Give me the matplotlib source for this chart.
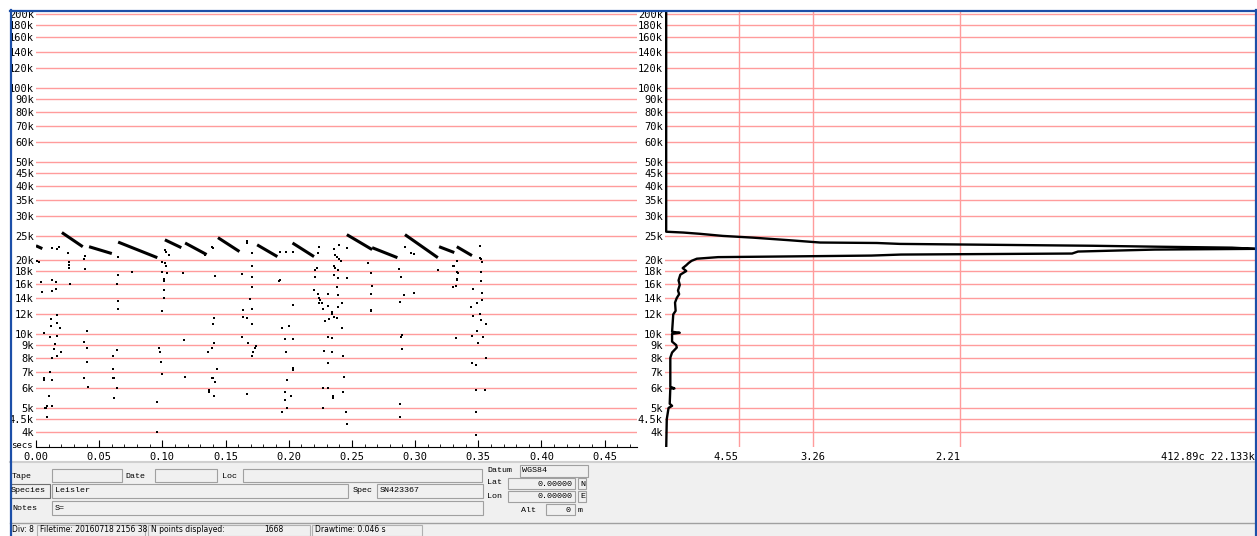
import matplotlib
matplotlib.use("Agg")
import matplotlib.pyplot as plt
from matplotlib.patches import Rectangle
from matplotlib.lines import Line2D
from matplotlib.ticker import FixedLocator, NullLocator, MultipleLocator

# frequency grid / tick labels (kHz)
freq_ticks = [4, 4.5, 5, 6, 7, 8, 9, 10, 12, 14, 16, 18, 20, 25, 30, 35, 40, 45,
              50, 60, 70, 80, 90, 100, 120, 140, 160, 180, 200]
freq_labels = ["4k", "4.5k", "5k", "6k", "7k", "8k", "9k", "10k", "12k", "14k", "16k",
               "18k", "20k", "25k", "30k", "35k", "40k", "45k", "50k", "60k", "70k",
               "80k", "90k", "100k", "120k", "140k", "160k", "180k", "200k"]
time_ticks = [0.00, 0.05, 0.10, 0.15, 0.20, 0.25, 0.30, 0.35, 0.40, 0.45]

# call sweeps: start/end time (s) and start/end frequency (kHz)
call_t0 = [0.000, 0.0205, 0.042, 0.065, 0.102, 0.118, 0.144, 0.175, 0.203, 0.246, 0.266, 0.292, 0.319, 0.333]
call_t1 = [0.005, 0.037, 0.060, 0.096, 0.115, 0.135, 0.161, 0.191, 0.220, 0.266, 0.286, 0.318, 0.331, 0.345]
call_f0 = [22.8, 25.8, 22.6, 23.6, 24.1, 23.4, 24.6, 23.0, 23.4, 25.3, 22.4, 25.3, 22.6, 22.6]
call_f1 = [22.2, 22.6, 21.2, 20.4, 22.4, 21.0, 21.6, 20.6, 20.6, 22.0, 20.4, 20.4, 21.4, 20.8]

# loose zero-crossing dots
dot_t = [0.001, 0.002, 0.004, 0.005, 0.006, 0.006, 0.006, 0.007, 0.008, 0.009, 0.009, 0.010,
         0.011, 0.011, 0.012, 0.012, 0.013, 0.013, 0.013, 0.013, 0.013, 0.014, 0.015, 0.016,
         0.016, 0.017, 0.017, 0.017, 0.017, 0.017, 0.018, 0.019, 0.020, 0.025, 0.026, 0.026,
         0.026, 0.027, 0.038, 0.039, 0.039, 0.038, 0.040, 0.040, 0.040, 0.038, 0.041, 0.013,
         0.064, 0.065, 0.065, 0.065, 0.065, 0.064, 0.061, 0.061, 0.061, 0.062, 0.064, 0.062,
         0.076, 0.096, 0.096, 0.097, 0.098, 0.099, 0.100, 0.100, 0.100, 0.100, 0.101, 0.101,
         0.101, 0.101, 0.102, 0.103, 0.104, 0.102, 0.103, 0.105,
         0.116, 0.117, 0.118, 0.134, 0.136, 0.137, 0.137, 0.139, 0.139, 0.140, 0.140, 0.141,
         0.141, 0.141, 0.142, 0.142, 0.143, 0.139, 0.140,
         0.163, 0.163, 0.164, 0.164, 0.167, 0.167, 0.167, 0.167, 0.168, 0.169, 0.171, 0.171,
         0.171, 0.171, 0.171, 0.171, 0.171, 0.172, 0.173, 0.174,
         0.192, 0.193, 0.193, 0.195, 0.195, 0.197, 0.197, 0.197, 0.198, 0.198, 0.199, 0.199, 0.200,
         0.203, 0.203, 0.203, 0.203, 0.203, 0.202, 0.220, 0.221, 0.221, 0.222, 0.223, 0.223,
         0.224, 0.224, 0.224, 0.225, 0.226, 0.227, 0.227, 0.227, 0.228, 0.229, 0.231, 0.231,
         0.231, 0.231, 0.231, 0.232, 0.234, 0.234, 0.234, 0.234, 0.235, 0.235, 0.236, 0.236,
         0.236, 0.236, 0.237, 0.237, 0.238, 0.238, 0.238, 0.239, 0.239, 0.239, 0.239, 0.240,
         0.240, 0.241, 0.242, 0.242, 0.243, 0.243, 0.244, 0.245, 0.246, 0.246, 0.246,
         0.263, 0.265, 0.265, 0.265, 0.266, 0.265,
         0.287, 0.288, 0.288, 0.288, 0.289, 0.289, 0.290, 0.290, 0.291, 0.292, 0.297, 0.299, 0.299,
         0.318, 0.330, 0.331, 0.333, 0.333, 0.334, 0.333, 0.333, 0.332, 0.330, 0.332, 0.344,
         0.345, 0.345, 0.346, 0.346, 0.348, 0.348, 0.348, 0.348, 0.349, 0.349, 0.350, 0.351,
         0.351, 0.351, 0.352, 0.352, 0.352, 0.352, 0.353, 0.353, 0.353, 0.354, 0.355, 0.356, 0.356]
dot_khz = [19.8, 19.6, 16.2, 14.8, 10.1, 6.6, 6.5, 5.0, 5.0, 5.1, 4.6, 5.6,
           9.7, 7.0, 11.5, 10.8, 16.6, 14.9, 8.0, 6.5, 5.1, 8.7, 9.1, 16.2,
           15.2, 11.9, 11.1, 9.8, 8.1, 22.2, 22.6, 10.6, 8.4, 21.4, 19.6, 19.1,
           18.6, 15.9, 20.2, 20.8, 18.4, 9.3, 10.3, 8.8, 7.7, 6.6, 6.1, 22.4,
           15.9, 20.6, 17.4, 13.6, 12.6, 8.6, 8.1, 7.2, 6.6, 6.6, 6.0, 5.5,
           17.9, 5.3, 4.0, 8.8, 8.4, 7.7, 6.9, 19.6, 17.9, 12.4, 16.4, 16.7,
           15.1, 14.0, 19.4, 18.9, 17.7, 22.0, 21.6, 21.0,
           17.7, 9.4, 6.7, 21.0, 8.4, 5.9, 5.8, 8.8, 6.6, 11.0, 6.6, 11.6,
           9.2, 5.6, 17.2, 6.4, 7.2, 22.6, 22.4,
           17.5, 9.7, 12.5, 11.7, 23.4, 23.9, 11.6, 5.7, 9.2, 13.8, 21.4, 18.8,
           17.0, 15.5, 12.6, 11.0, 8.1, 8.4, 8.8, 8.9,
           16.4, 21.6, 16.6, 10.6, 4.8, 9.5, 5.8, 5.4, 21.6, 8.4, 6.5, 5.0, 10.8,
           21.6, 13.1, 9.5, 7.3, 7.1, 5.6, 15.1, 18.2, 17.0, 18.6, 21.4, 14.5,
           22.6, 14.0, 13.4, 13.7, 13.3, 12.6, 6.0, 5.0, 8.5, 11.3, 14.5, 13.0,
           9.7, 7.6, 6.0, 11.5, 12.3, 12.0, 9.6, 8.4, 5.6, 5.5, 22.2, 18.8,
           17.4, 11.7, 21.0, 18.6, 20.6, 15.5, 11.6, 18.2, 16.9, 14.4, 12.8, 23.0,
           20.2, 19.8, 13.4, 10.6, 8.1, 5.8, 6.7, 4.8, 4.3, 22.4, 16.9,
           19.4, 17.7, 14.5, 12.5, 15.6, 12.4,
           18.4, 13.5, 5.2, 4.6, 17.0, 9.7, 9.9, 8.7, 14.4, 22.6, 21.4, 21.2, 14.6,
           18.1, 18.8, 18.9, 19.8, 17.9, 17.7, 16.7, 16.6, 15.6, 15.5, 9.6, 12.9,
           9.8, 7.6, 15.2, 11.8, 7.5, 5.9, 4.8, 3.9, 13.3, 10.3, 9.2, 22.8,
           20.4, 12.0, 20.2, 17.9, 16.4, 11.4, 19.6, 14.6, 13.7, 9.7, 5.9, 11.0, 8.0]

# frequency profile (right panel): level (fraction of peak) vs frequency
prof_khz = [3.4, 4.5, 5.0, 5.1, 5.2, 6.0, 6.0, 6.1, 7.0, 8.0, 8.4, 8.8, 9.0, 9.3, 10.0, 10.1,
            10.2, 12.0, 12.4, 13.4, 14.0, 14.5, 15.0, 15.8, 16.5, 17.4, 18.0, 18.5, 19.0,
            19.4, 19.8, 20.2, 20.5, 20.6, 20.8, 21.0, 21.2, 21.6, 22.0, 22.15, 22.4, 22.6,
            22.8, 23.2, 23.4, 23.5, 24.0, 24.6, 25.0, 25.5, 25.8, 26.0, 210]
prof_level = [0.002, 0.003, 0.006, 0.012, 0.008, 0.009, 0.016, 0.009, 0.009, 0.009, 0.012,
              0.020, 0.019, 0.012, 0.012, 0.025, 0.012, 0.014, 0.018, 0.017, 0.020, 0.024,
              0.022, 0.025, 0.023, 0.026, 0.036, 0.030, 0.036, 0.040, 0.045, 0.054, 0.090,
              0.18, 0.35, 0.40, 0.69, 0.70, 0.83, 1.0, 0.961, 0.834, 0.725, 0.398, 0.359,
              0.263, 0.212, 0.149, 0.098, 0.059, 0.031, 0.002, 0.002]
prof_grid = [0.125, 0.25, 0.5]
prof_grid_labels = ["4.55", "3.26", "2.21"]
peak_label = "412.89c 22.133k"

W, H = 1257, 536
GRID = "#ff9c9c"
MONO = "DejaVu Sans Mono"


def fx(px):
    return px / W


def fy(py):
    return 1 - py / H


fig = plt.figure(figsize=(W / 100, H / 100), dpi=100)
fig.patch.set_facecolor("white")

ax1 = fig.add_axes([fx(36), fy(447), fx(637) - fx(36), fy(11) - fy(447)])
ax2 = fig.add_axes([fx(665), fy(447), fx(1255) - fx(665), fy(11) - fy(447)])

for ax in (ax1, ax2):
    ax.set_yscale("log")
    ax.set_ylim(3.47, 205)
    ax.yaxis.set_major_locator(FixedLocator(freq_ticks))
    ax.yaxis.set_minor_locator(NullLocator())
    ax.set_yticklabels(freq_labels)
    ax.yaxis.grid(True, color=GRID, lw=1)
    ax.tick_params(axis="y", length=0, pad=1.5, labelsize=7.5)
    for lab in ax.get_yticklabels():
        lab.set_family(MONO)
    for s in ax.spines.values():
        s.set_visible(False)
    ax.set_axisbelow(True)

# time/frequency panel
ax1.set_xlim(0, 0.4756)
ax1.spines["bottom"].set_visible(True)
ax1.spines["bottom"].set_color("black")
ax1.xaxis.set_major_locator(FixedLocator(time_ticks))
ax1.xaxis.set_minor_locator(MultipleLocator(0.01))
ax1.set_xticklabels(["%.2f" % t for t in time_ticks])
ax1.tick_params(axis="x", which="major", direction="in", length=5, pad=3.5, labelsize=7.5)
ax1.tick_params(axis="x", which="minor", direction="in", length=2.5)
for lab in ax1.get_xticklabels():
    lab.set_family(MONO)

ax1.plot(dot_t, dot_khz, "s", ms=1.6, mew=0, color="black")
for t0, t1, f0, f1 in zip(call_t0, call_t1, call_f0, call_f1):
    ax1.plot([t0, t1], [f0, f1], color="black", lw=2.2, solid_capstyle="butt")

# profile panel
ax2.set_xlim(0, 1)
ax2.xaxis.set_major_locator(FixedLocator(prof_grid))
ax2.xaxis.grid(True, color=GRID, lw=1)
ax2.tick_params(axis="x", length=0, labelbottom=False)
ax2.plot(prof_level, prof_khz, color="black", lw=1.7)
xt = ax2.get_xaxis_transform()
for x, s, ha in zip(prof_grid, prof_grid_labels, ["right", "center", "right"]):
    ax2.text(x, -0.023, s, transform=xt, ha=ha, va="center", fontsize=7.5, family=MONO)
ax2.text(1.0, -0.023, peak_label, transform=xt, ha="right", va="center",
         fontsize=7.5, family=MONO, clip_on=False)

fig.text(fx(11), fy(446), "secs", fontsize=6.5, family=MONO, va="center", ha="left")


# ---- form panel below ----
def rect(x0, y0, x1, y1, fc="#f0f0f0", ec="#a0a0a0", lw=0.8):
    fig.add_artist(Rectangle((fx(x0), fy(y1)), fx(x1) - fx(x0), fy(y0) - fy(y1),
                             transform=fig.transFigure, fc=fc, ec=ec, lw=lw))


def label(x, y, s, ha="left", size=6, family="Liberation Mono", **kw):
    fig.text(fx(x), fy(y), s, ha=ha, va="center", fontsize=size, family=family, **kw)


rect(10, 462, 1257, 523, fc="#f0f0f0", ec="#f0f0f0")
fig.add_artist(Line2D([fx(10), fx(1255)], [fy(462), fy(462)], color="#d0d0d0", lw=1.5))
rect(10, 523, 1257, 536, fc="#f0f0f0", ec="#f0f0f0")
fig.add_artist(Line2D([fx(10), fx(1255)], [fy(523), fy(523)], color="#a0a0a0", lw=1))

label(12, 476, "Tape")
rect(52, 469, 122, 482)
label(125, 476, "Date")
rect(155, 469, 217, 482)
label(222, 476, "Loc")
rect(243, 469, 482, 482)
label(487, 471, "Datum")
rect(520, 465, 588, 477)
label(522, 471, "WGS84")

rect(10, 484, 50, 498, fc="#f0f0f0", ec="#707070")
label(11, 491, "Species")
rect(52, 484, 348, 498)
label(55, 491, "Leisler")
label(353, 491, "Spec")
rect(377, 484, 483, 498)
label(380, 491, "SN423367")
label(487, 483, "Lat")
rect(508, 478, 575, 489)
label(573, 484, "0.00000", ha="right")
rect(578, 478, 586, 489)
label(580, 484, "N")

label(12, 508, "Notes")
rect(52, 501, 483, 515)
label(55, 508, "S=")
label(487, 496, "Lon")
rect(508, 491, 575, 502)
label(573, 497, "0.00000", ha="right")
rect(578, 491, 586, 502)
label(580, 497, "E")
label(521, 510, "Alt")
rect(546, 504, 575, 515)
label(571, 510, "0", ha="right")
label(578, 510, "m")

# status bar
SB = "DejaVu Sans"
label(12, 530, "Div: 8", size=5.5, family=SB)
rect(37, 525, 145, 536, ec="#b0b0b0")
label(40, 530, "Filetime: 20160718 2156 38", size=5.5, family=SB)
rect(148, 525, 310, 536, ec="#b0b0b0")
label(151, 530, "N points displayed:", size=5.5, family=SB)
label(283, 530, "1668", ha="right", size=5.5, family=SB)
rect(312, 525, 422, 536, ec="#b0b0b0")
label(315, 530, "Drawtime: 0.046 s", size=5.5, family=SB)

# window frame
rect(0, 0, 1257, 10, fc="white", ec="white", lw=0)
rect(0, 0, 10, 536, fc="white", ec="white", lw=0)
blue = "#1c4fa8"
fig.add_artist(Line2D([fx(10), fx(1257)], [fy(10.5), fy(10.5)], color=blue, lw=1.6))
fig.add_artist(Line2D([fx(10.5), fx(10.5)], [fy(10), fy(536)], color=blue, lw=1.6))
fig.add_artist(Line2D([fx(1255.5), fx(1255.5)], [fy(10), fy(536)], color=blue, lw=1.6))

fig.savefig("out.png", dpi=100)
